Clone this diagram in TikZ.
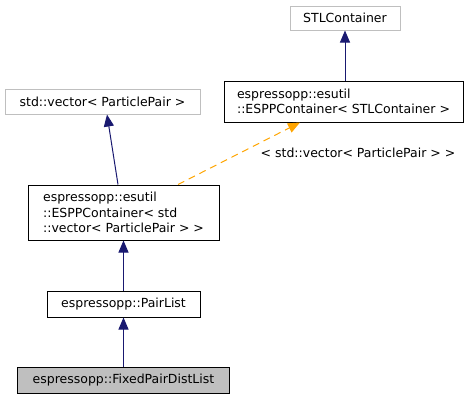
\documentclass[tikz,border=0pt]{standalone}
\usepackage{fontspec}
\setmainfont{DejaVu Sans}
\usetikzlibrary{arrows.meta}

\definecolor{inhblue}{RGB}{25,25,112}
\definecolor{tmplorange}{RGB}{255,165,0}
\definecolor{extgray}{RGB}{191,191,191}
\definecolor{curgray}{RGB}{191,191,191}

\begin{document}
\begin{tikzpicture}[
                x = 1pt, y = -1pt, % pixel-like units, y going down
                > = {Triangle[length=12pt, width=10pt]}, % arrow head style
                line width = 1pt, % line style
                font = \fontsize{12.5}{15.5}\selectfont
            ]

            \tikzstyle{every node}=[rectangle, inner sep = 0pt, align = left]
            \tikzstyle{cls}=[draw = black, fill = white]
            \tikzstyle{ext}=[draw = extgray, fill = white]
            \tikzstyle{cur}=[draw = black, fill = curgray]
            \tikzstyle{inh}=[draw = inhblue, ->]
            \tikzstyle{tmpl}=[draw = tmplorange, dash pattern = on 7pt off 5pt, ->]

            \useasboundingbox (0,0) rectangle (471,399);

            \node[ext, minimum width = 110pt, minimum height = 24pt] (stl) at (345,18) {STLContainer};
            \node[cls, minimum width = 239pt, minimum height = 41pt] (esppstl) at (343.5,101.5)
                {espressopp::esutil\\::ESPPContainer< STLContainer >};
            \node[ext, minimum width = 195pt, minimum height = 25pt] (vec) at (102.5,101.5)
                {std::vector< ParticlePair >};
            \node[cls, minimum width = 191pt, minimum height = 55pt] (esppvec) at (123.5,212.5)
                {espressopp::esutil\\::ESPPContainer< std\\::vector< ParticlePair > >};
            \node[cls, minimum width = 153pt, minimum height = 26pt] (pairlist) at (123.5,304)
                {espressopp::PairList};
            \node[cur, minimum width = 212pt, minimum height = 26pt] (fixed) at (123.5,380)
                {espressopp::FixedPairDistList};
            \node (tlabel) at (358,153) {< std::vector< ParticlePair > >};

            \draw[inh] (esppstl.north -| stl.south) -- (stl.south);
            \draw[inh] ([xshift = -5.5pt]esppvec.north) -- ([xshift = 4.5pt]vec.south);
            \draw[tmpl] ([xshift = 54.5pt]esppvec.north) -- ([xshift = -43.5pt]esppstl.south);
            \draw[inh] (pairlist) -- (esppvec);
            \draw[inh] (fixed) -- (pairlist);

        \end{tikzpicture}
\end{document}
